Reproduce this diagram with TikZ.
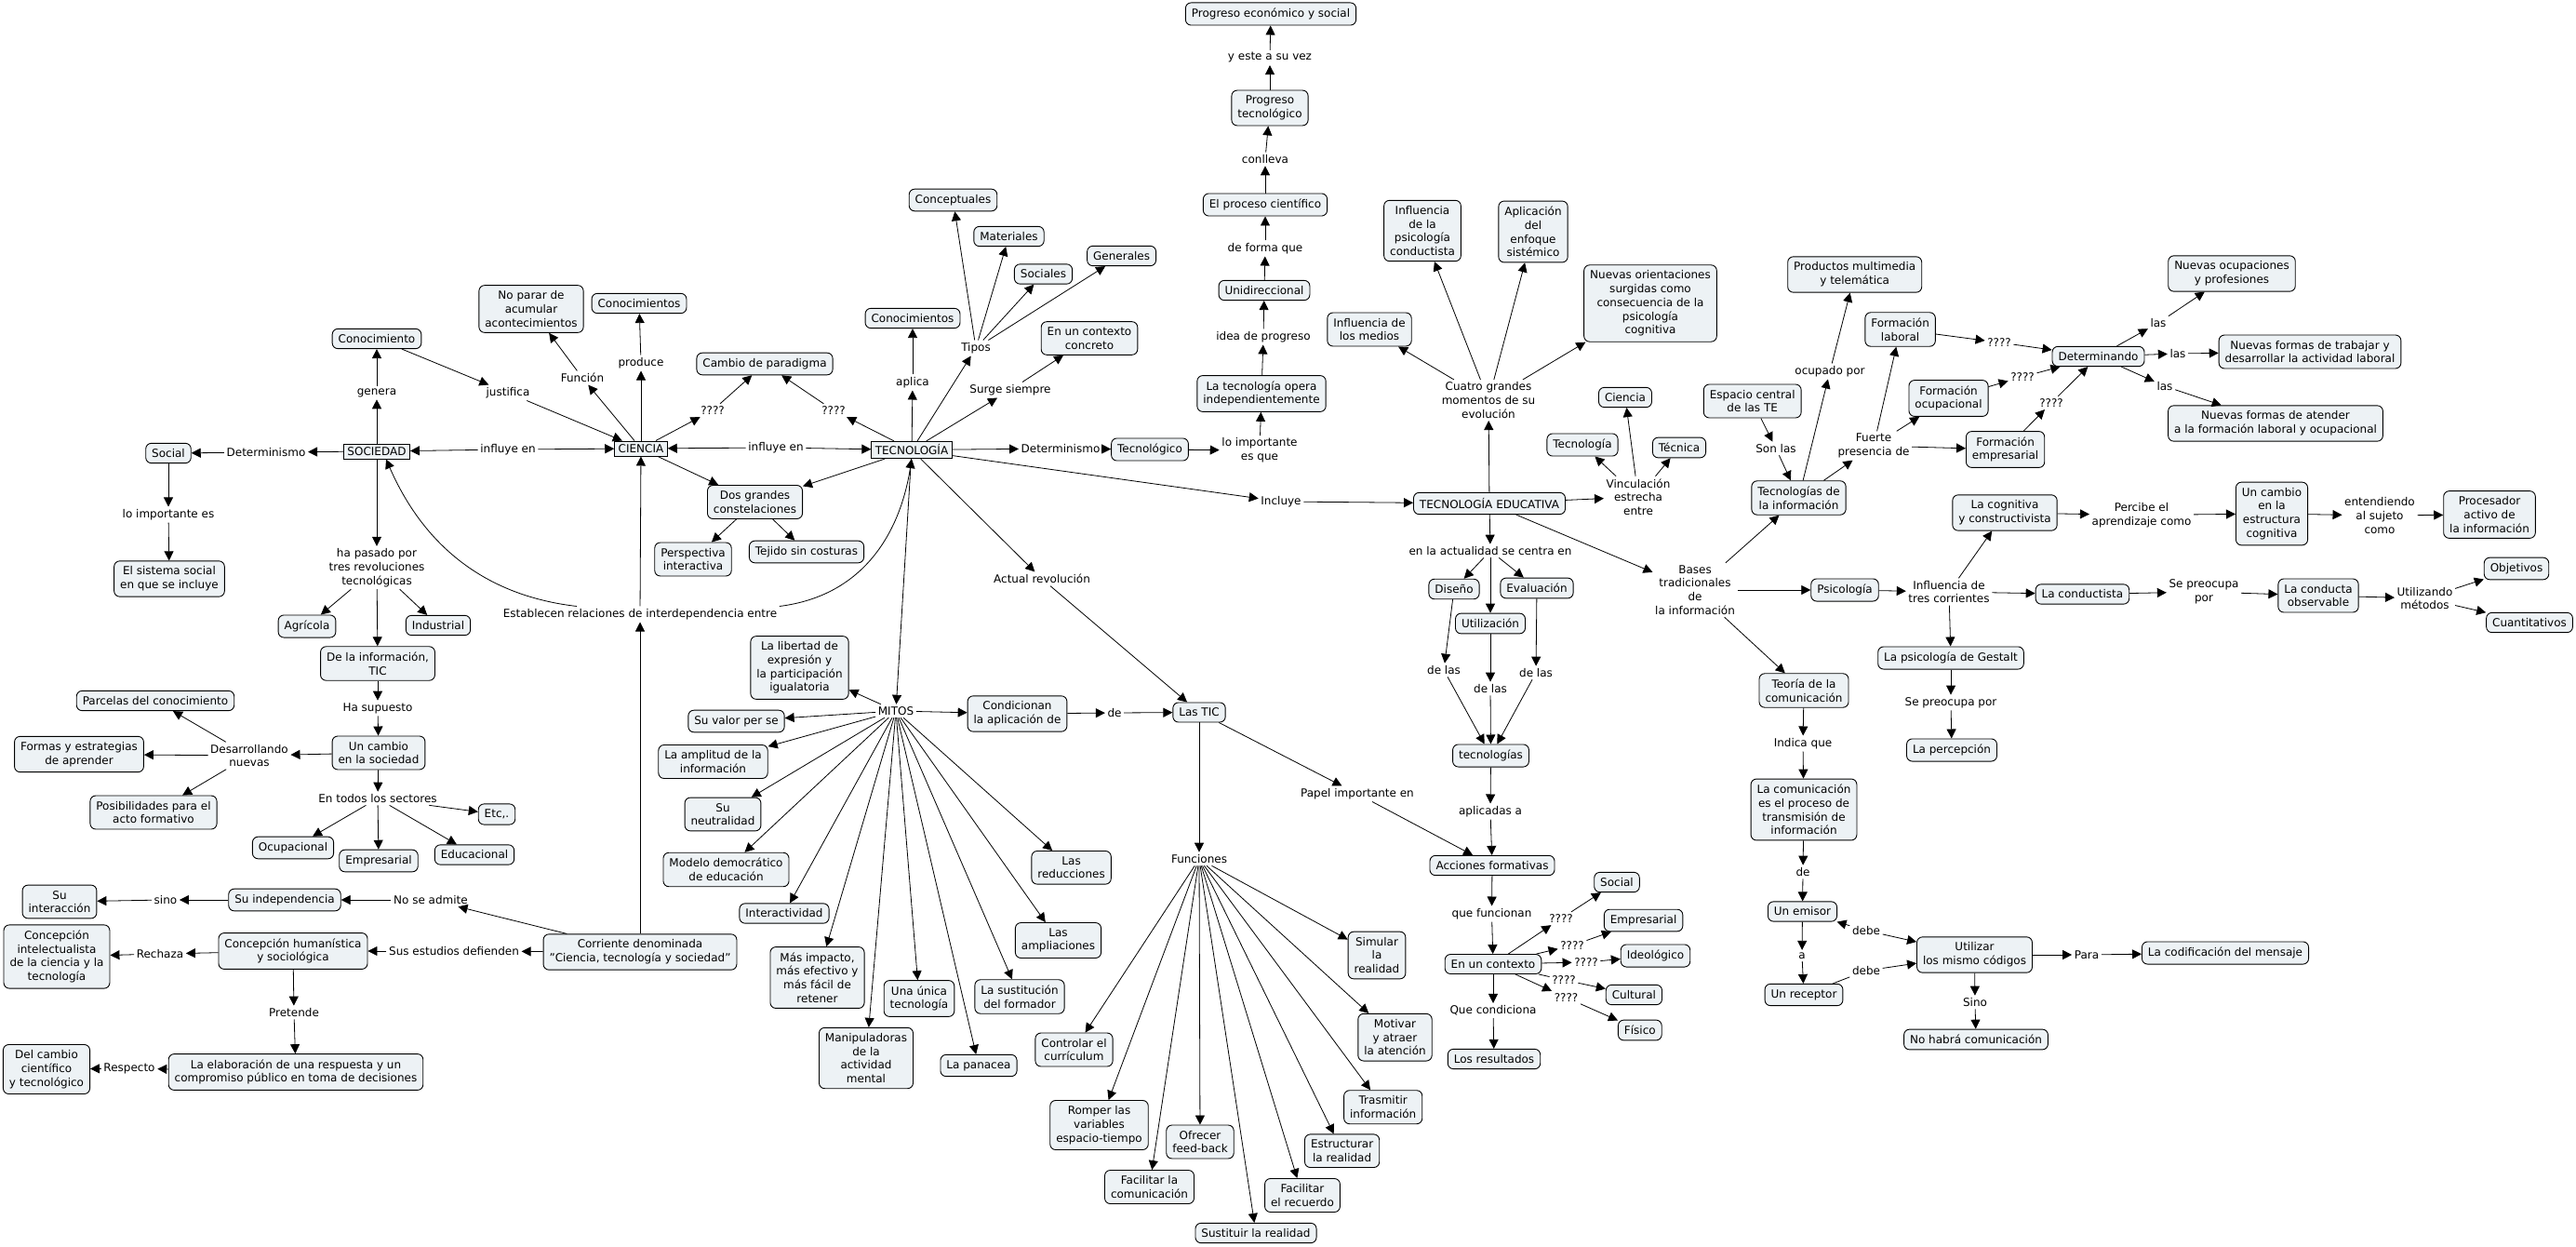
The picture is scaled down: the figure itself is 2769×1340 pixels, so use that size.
\documentclass[tikz,border=0pt]{standalone}
\usepackage{fontspec}
\setmainfont{DejaVu Sans}
\usetikzlibrary{arrows.meta}
\definecolor{cfill}{RGB}{237,242,245}
\begin{document}
\begin{tikzpicture}[x=1pt,y=-1pt,
  every node/.style={font=\fontsize{12}{14.7}\selectfont, align=center},
  cn/.style={draw, fill=cfill, rounded corners=6pt, inner xsep=6.5pt, inner ysep=6pt, line width=0.9pt},
  sq/.style={draw, fill=cfill, inner xsep=4pt, inner ysep=3.5pt, line width=0.9pt},
  lb/.style={inner sep=2.5pt},
  arw/.style={-{Triangle[length=10pt,width=10pt]}, line width=0.8pt},
  seg/.style={line width=0.8pt}]
\fill[white] (0,0) rectangle (2769,1340);
\useasboundingbox (0,0) rectangle (2769,1340);

% ---------- main row ----------
\node[sq] (soc) at (405,485) {SOCIEDAD};
\node[sq] (cie) at (689,482) {CIENCIA};
\node[sq] (tec) at (980,483.5) {TECNOLOGÍA};

% ---------- left part ----------
\node[cn] (conoc1) at (405,364) {Conocimiento};
\node[lb] (lgenera) at (405,422) {genera};
\node[lb] (ljust) at (546,422) {justifica};
\node[lb] (lfunc) at (626,406) {Función};
\node[cn] (noparar) at (571,332) {No parar de\\acumular\\acontecimientos};
\node[lb] (lprod) at (689,390) {produce};
\node[cn] (conoc2) at (687,326) {Conocimientos};
\node[lb] (linf1) at (546,483) {influye en};
\node[lb] (ldet1) at (286,486) {Determinismo};
\node[cn] (social) at (181,487) {Social};
\node[lb] (limp1) at (181,553) {lo importante es};
\node[cn] (sistema) at (182,622) {El sistema social\\en que se incluye};
\node[lb] (lpasado) at (405,610) {ha pasado por\\tres revoluciones\\tecnológicas};
\node[cn] (agricola) at (330,673) {Agrícola};
\node[cn] (industrial) at (471,672) {Industrial};
\node[cn] (deinfo) at (406,713) {De la información,\\TIC};
\node[lb] (lsupuesto) at (406,761) {Ha supuesto};
\node[cn] (cambio1) at (407,809) {Un cambio\\en la sociedad};
\node[lb] (ldesarr) at (268,812) {Desarrollando\\nuevas};
\node[cn] (parcelas) at (167,753) {Parcelas del conocimiento};
\node[cn] (formas) at (85,810.5) {Formas y estrategias\\de aprender};
\node[cn] (posib) at (165,873) {Posibilidades para el\\acto formativo};
\node[lb] (ltodos) at (406,858) {En todos los sectores};
\node[cn] (etc) at (534,875) {Etc,.};
\node[cn] (ocup) at (315,911) {Ocupacional};
\node[cn] (empres1) at (407,925) {Empresarial};
\node[cn] (educ) at (510,918.5) {Educacional};
\node[cn] (indep) at (306,967) {Su independencia};
\node[lb] (ladmite) at (463,967) {No se admite};
\node[lb] (lsino) at (178,967) {sino};
\node[cn] (interac) at (64,969) {Su\\interacción};
\node[cn] (intelec) at (61,1028) {Concepción\\intelectualista\\de la ciencia y la\\tecnología};
\node[lb] (lrechaza) at (172,1025) {Rechaza};
\node[cn] (human) at (315,1022) {Concepción humanística\\y sociológica};
\node[lb] (lestudios) at (488,1022) {Sus estudios defienden};
\node[cn] (corriente) at (688,1023) {Corriente denominada\\"Ciencia, tecnología y sociedad"};
\node[lb] (lpretende) at (316,1088) {Pretende};
\node[cn] (elabor) at (318,1152) {La elaboración de una respuesta y un\\compromiso público en toma de decisiones};
\node[lb] (lrespecto) at (139,1148) {Respecto};
\node[cn] (delcambio) at (50,1149) {Del cambio\\científico\\y tecnológico};
\node[lb] (lestab) at (688,660) {Establecen relaciones de interdependencia entre};

% ---------- middle ----------
\node[lb] (linf2) at (834,481) {influye en};
\node[lb] (lq1) at (766,441) {????};
\node[lb] (lq2) at (896,441) {????};
\node[cn] (paradigma) at (822,391) {Cambio de paradigma};
\node[cn] (dosgr) at (811.5,539.5) {Dos grandes\\constelaciones};
\node[cn] (perspec) at (745,601) {Perspectiva\\interactiva};
\node[cn] (tejido) at (867,593) {Tejido sin costuras};
\node[cn] (conoc3) at (981,342) {Conocimientos};
\node[lb] (laplica) at (981,411) {aplica};
\node[lb] (ltipos) at (1049,374) {Tipos};
\node[cn] (concep) at (1024.5,215) {Conceptuales};
\node[cn] (mater) at (1084.5,254) {Materiales};
\node[cn] (sociales) at (1121.5,294.5) {Sociales};
\node[cn] (generales) at (1205.6,275) {Generales};
\node[cn] (contextoc) at (1171,363.5) {En un contexto\\concreto};
\node[lb] (lsurge) at (1086,419) {Surge siempre};
\node[lb] (ldet2) at (1140,482) {Determinismo};
\node[cn] (tecnologico) at (1236,483) {Tecnológico};
\node[lb] (limp2) at (1354,484) {lo importante\\es que};
\node[cn] (opera) at (1356,423) {La tecnología opera\\independientemente};
\node[lb] (lidea) at (1358,362) {idea de progreso};
\node[cn] (unidir) at (1359,312) {Unidireccional};
\node[lb] (lforma) at (1360,267) {de forma que};
\node[cn] (proceso) at (1360,220) {El proceso científico};
\node[lb] (lconlleva) at (1360,171) {conlleva};
\node[cn] (progtec) at (1365,116) {Progreso\\tecnológico};
\node[lb] (leste) at (1365,62) {y este a su vez};
\node[cn] (progeco) at (1366,15) {Progreso económico y social};
\node[lb] (lincluye) at (1377,539) {Incluye};
\node[lb] (lactual) at (1120,622) {Actual revolución};
\node[lb] (mitos) at (963,764) {MITOS};
\node[cn] (libertad) at (859.5,717.5) {La libertad de\\expresión y\\la participación\\igualatoria};
\node[cn] (valor) at (791.5,775) {Su valor per se};
\node[cn] (amplitud) at (766.5,818.5) {La amplitud de la\\información};
\node[cn] (neutral) at (777,875) {Su\\neutralidad};
\node[cn] (modelo) at (780.5,934.5) {Modelo democrático\\de educación};
\node[cn] (interact) at (843,981.5) {Interactividad};
\node[cn] (impacto) at (878.5,1050.5) {Más impacto,\\más efectivo y\\más fácil de\\retener};
\node[cn] (unica) at (988,1073) {Una única\\tecnología};
\node[cn] (manip) at (931,1137) {Manipuladoras\\de la\\actividad\\mental};
\node[cn] (panacea) at (1052,1145) {La panacea};
\node[cn] (sustit) at (1096,1071) {La sustitución\\del formador};
\node[cn] (amplia) at (1137.5,1010.5) {Las\\ampliaciones};
\node[cn] (reduc) at (1151.6,932.3) {Las\\reducciones};
\node[cn] (condic) at (1093.5,767) {Condicionan\\la aplicación de};
\node[lb] (lde1) at (1198,766) {de};
\node[cn] (tic) at (1289,765.5) {Las TIC};
\node[lb] (lfunc2) at (1289,923) {Funciones};
\node[cn] (controlar) at (1154.5,1128) {Controlar el\\currículum};
\node[cn] (romper) at (1181.5,1209) {Romper las\\variables\\espacio-tiempo};
\node[cn] (faccom) at (1235.5,1275.5) {Facilitar la\\comunicación};
\node[cn] (ofrecer) at (1290,1227) {Ofrecer\\feed-back};
\node[cn] (sustituir) at (1350,1325) {Sustituir la realidad};
\node[cn] (facrec) at (1400,1284.5) {Facilitar\\el recuerdo};
\node[cn] (estruct) at (1442.6,1236.7) {Estructurar\\la realidad};
\node[cn] (trasmitir) at (1486.7,1189.7) {Trasmitir\\información};
\node[cn] (motivar) at (1499.5,1114.7) {Motivar\\y atraer\\la atención};
\node[cn] (simular) at (1480,1026.5) {Simular\\la\\realidad};
\node[lb] (lpapel) at (1459,853) {Papel importante en};

% ---------- tecnologia educativa ----------
\node[cn] (te) at (1601,541) {TECNOLOGÍA EDUCATIVA};
\node[lb] (lcuatro) at (1600,430) {Cuatro grandes\\momentos de su\\evolución};
\node[cn] (medios) at (1472,354) {Influencia de\\los medios};
\node[cn] (conduct) at (1529,248) {Influencia\\de la\\psicología\\conductista};
\node[cn] (aplicacion) at (1648,249) {Aplicación\\del\\enfoque\\sistémico};
\node[cn] (nuevasor) at (1774,326) {Nuevas orientaciones\\surgidas como\\consecuencia de la\\psicología\\cognitiva};
\node[lb] (lvinc) at (1761,534) {Vinculación\\estrecha\\entre};
\node[cn] (tecnologia2) at (1701,478) {Tecnología};
\node[cn] (ciencia2) at (1747,427) {Ciencia};
\node[cn] (tecnica) at (1805,481) {Técnica};
\node[lb] (lactualidad) at (1602,592) {en la actualidad se centra en};
\node[cn] (diseno) at (1563,633) {Diseño};
\node[cn] (evalu) at (1652,632) {Evaluación};
\node[cn] (utiliz) at (1602,670) {Utilización};
\node[lb] (ldelas1) at (1552,720) {de las};
\node[lb] (ldelas2) at (1602,740) {de las};
\node[lb] (ldelas3) at (1651,723) {de las};
\node[cn] (tecnologias) at (1602.5,812) {tecnologías};
\node[lb] (laplicadas) at (1602,872) {aplicadas a};
\node[cn] (acciones) at (1604,930) {Acciones formativas};
\node[lb] (lfuncionan) at (1603.5,982) {que funcionan};
\node[cn] (contexto) at (1605,1036) {En un contexto};
\node[lb] (lcondiciona) at (1605,1086) {Que condiciona};
\node[cn] (resultados) at (1606,1138) {Los resultados};
\node[lb] (q1) at (1678,987) {????};
\node[lb] (q2) at (1690,1016) {????};
\node[lb] (q3) at (1705,1034) {????};
\node[lb] (q4) at (1681,1053) {????};
\node[lb] (q5) at (1683.5,1072) {????};
\node[cn] (social2) at (1738,948) {Social};
\node[cn] (empres2) at (1766.6,989) {Empresarial};
\node[cn] (ideol) at (1779.5,1027) {Ideológico};
\node[cn] (cultural) at (1756.4,1069) {Cultural};
\node[cn] (fisico) at (1762.8,1107) {Físico};

% ---------- right part ----------
\node[lb] (lbases) at (1822,634) {Bases\\tradicionales\\de\\la información};
\node[cn] (tecinfo) at (1933.5,535) {Tecnologías de\\la información};
\node[cn] (espacio) at (1883.7,431) {Espacio central\\de las TE};
\node[lb] (lson) at (1909,482) {Son las};
\node[lb] (locupado) at (1967,399) {ocupado por};
\node[cn] (productos) at (1993.7,295) {Productos multimedia\\y telemática};
\node[lb] (lfuerte) at (2014,479) {Fuerte\\presencia de};
\node[cn] (flaboral) at (2042.6,354) {Formación\\laboral};
\node[cn] (focup) at (2094.5,428) {Formación\\ocupacional};
\node[cn] (fempres) at (2155.6,483) {Formación\\empresarial};
\node[lb] (lq3) at (2149,368) {????};
\node[lb] (lq4) at (2174,405) {????};
\node[lb] (lq5) at (2205,433) {????};
\node[cn] (determ) at (2255.5,383) {Determinando};
\node[lb] (llas1) at (2320,347) {las};
\node[lb] (llas2) at (2341,380) {las};
\node[lb] (llas3) at (2327,415) {las};
\node[cn] (nocup) at (2399,294) {Nuevas ocupaciones\\y profesiones};
\node[cn] (ntrab) at (2483,378) {Nuevas formas de trabajar y\\desarrollar la actividad laboral};
\node[cn] (naten) at (2446,455) {Nuevas formas de atender\\a la formación laboral y ocupacional};
\node[cn] (psico) at (1983,634) {Psicología};
\node[lb] (linfl) at (2095,636) {Influencia de\\tres corrientes};
\node[cn] (cognit) at (2155,551) {La cognitiva\\y constructivista};
\node[lb] (lpercibe) at (2302,553.5) {Percibe el\\aprendizaje como};
\node[cn] (cambio2) at (2442,552) {Un cambio\\en la\\estructura\\cognitiva};
\node[lb] (lentend) at (2558,554) {entendiendo\\al sujeto\\como};
\node[cn] (procesador) at (2676,553) {Procesador\\activo de\\la información};
\node[cn] (conductista) at (2238.4,638.5) {La conductista};
\node[lb] (lpreoc1) at (2369,636) {Se preocupa\\por};
\node[cn] (observable) at (2492,640) {La conducta\\observable};
\node[lb] (lutiliz) at (2606.5,643) {Utilizando\\métodos};
\node[cn] (objetivos) at (2705,611) {Objetivos};
\node[cn] (cuantit) at (2719,669) {Cuantitativos};
\node[cn] (gestalt) at (2097,707) {La psicología de Gestalt};
\node[lb] (lpreoc2) at (2097,755) {Se preocupa por};
\node[cn] (percep) at (2098,806) {La percepción};
\node[cn] (teoria) at (1939,742) {Teoría de la\\comunicación};
\node[lb] (lindica) at (1938,799) {Indica que};
\node[cn] (comunic) at (1939,870) {La comunicación\\es el proceso de\\transmisión de\\información};
\node[lb] (lde2) at (1938,937) {de};
\node[cn] (emisor) at (1937.5,979.5) {Un emisor};
\node[lb] (la) at (1937,1027) {a};
\node[cn] (receptor) at (1939,1069) {Un receptor};
\node[lb] (ldebe1) at (2006,1000) {debe};
\node[lb] (ldebe2) at (2006,1043) {debe};
\node[cn] (utilizar) at (2122.5,1026) {Utilizar\\los mismo códigos};
\node[lb] (lpara) at (2243,1026) {Para};
\node[cn] (codif) at (2392,1024) {La codificación del mensaje};
\node[lb] (lsinoo) at (2123,1077) {Sino};
\node[cn] (nohabra) at (2124,1117) {No habrá comunicación};

% ---------- connectors: left ----------
\draw[arw] (soc) -- (lgenera);
\draw[arw] (lgenera) -- (conoc1);
\draw[arw] (conoc1) -- (ljust);
\draw[arw] (ljust) -- (cie);
\draw[arw] (cie) -- (lfunc);
\draw[arw] (lfunc) -- (noparar);
\draw[arw] (cie) -- (lprod);
\draw[arw] (lprod) -- (conoc2);
\draw[arw] (linf1) -- (soc);
\draw[arw] (linf1) -- (cie);
\draw[arw] (soc) -- (ldet1);
\draw[arw] (ldet1) -- (social);
\draw[arw] (social) -- (limp1);
\draw[arw] (limp1) -- (sistema);
\draw[arw] (soc) -- (lpasado);
\draw[arw] (lpasado) -- (agricola);
\draw[arw] (lpasado) -- (industrial);
\draw[arw] (lpasado) -- (deinfo);
\draw[arw] (deinfo) -- (lsupuesto);
\draw[arw] (lsupuesto) -- (cambio1);
\draw[arw] (cambio1) -- (ldesarr);
\draw[arw] (ldesarr) -- (parcelas);
\draw[arw] (ldesarr) -- (formas);
\draw[arw] (ldesarr) -- (posib);
\draw[arw] (cambio1) -- (ltodos);
\draw[arw] (ltodos) -- (ocup);
\draw[arw] (ltodos) -- (empres1);
\draw[arw] (ltodos) -- (educ);
\draw[arw] (ltodos) -- (etc);
\draw[arw] (corriente) -- (ladmite);
\draw[arw] (ladmite) -- (indep);
\draw[arw] (indep) -- (lsino);
\draw[arw] (lsino) -- (interac);
\draw[arw] (corriente) -- (lestudios);
\draw[arw] (lestudios) -- (human);
\draw[arw] (human) -- (lrechaza);
\draw[arw] (lrechaza) -- (intelec);
\draw[arw] (human) -- (lpretende);
\draw[arw] (lpretende) -- (elabor);
\draw[arw] (elabor) -- (lrespecto);
\draw[arw] (lrespecto) -- (delcambio);
\draw[arw] (corriente) -- (lestab);
\draw[arw] (lestab) -- (cie);
\draw[arw] ([xshift=-68pt]lestab.north) .. controls (520,640) and (455,585) .. ([xshift=10pt]soc.south);
\draw[arw] (lestab.north east) .. controls (930,640) and (968,570) .. (tec.south);

% ---------- connectors: middle ----------
\draw[arw] (linf2) -- (cie);
\draw[arw] (linf2) -- (tec);
\draw[arw] (cie) -- (lq1);
\draw[arw] (lq1) -- (paradigma);
\draw[arw] (tec) -- (lq2);
\draw[arw] (lq2) -- (paradigma);
\draw[arw] (cie) -- (dosgr);
\draw[arw] (tec) -- (dosgr);
\draw[arw] (dosgr) -- (perspec);
\draw[arw] (dosgr) -- (tejido);
\draw[arw] (tec) -- (laplica);
\draw[arw] (laplica) -- (conoc3);
\draw[arw] (tec) -- (ltipos);
\draw[arw] (ltipos) -- (concep);
\draw[arw] (ltipos) -- (mater);
\draw[arw] (ltipos) -- (sociales);
\draw[arw] (ltipos) -- (generales);
\draw[arw] (tec) -- (lsurge);
\draw[arw] (lsurge) -- (contextoc);
\draw[arw] (tec) -- (ldet2);
\draw[arw] (ldet2) -- (tecnologico);
\draw[arw] (tecnologico) -- (limp2);
\draw[arw] (limp2) -- (opera);
\draw[arw] (opera) -- (lidea);
\draw[arw] (lidea) -- (unidir);
\draw[arw] (unidir) -- (lforma);
\draw[arw] (lforma) -- (proceso);
\draw[arw] (proceso) -- (lconlleva);
\draw[arw] (lconlleva) -- (progtec);
\draw[arw] (progtec) -- (leste);
\draw[arw] (leste) -- (progeco);
\draw[arw] (tec) -- (lincluye);
\draw[arw] (lincluye) -- (te);
\draw[arw] (tec) -- (lactual);
\draw[arw] (lactual) -- (tic);
\draw[arw] (tec) -- (mitos);
\foreach \t in {libertad,valor,amplitud,neutral,modelo,interact,impacto,manip,unica,panacea,sustit,amplia,reduc}
  \draw[arw] (mitos) -- (\t);
\draw[arw] (mitos) -- (condic);
\draw[arw] (condic) -- (lde1);
\draw[arw] (lde1) -- (tic);
\draw[arw] (tic) -- (lfunc2);
\foreach \t in {controlar,romper,faccom,ofrecer,sustituir,facrec,estruct,trasmitir,motivar,simular}
  \draw[arw] (lfunc2) -- (\t);
\draw[arw] (tic) -- (lpapel);
\draw[arw] (lpapel) -- (acciones);

% ---------- connectors: tecnologia educativa ----------
\draw[arw] (te) -- (lcuatro);
\draw[arw] (lcuatro) -- (medios);
\draw[arw] (lcuatro) -- (conduct);
\draw[arw] (lcuatro) -- (aplicacion);
\draw[arw] (lcuatro) -- (nuevasor);
\draw[arw] (te) -- (lvinc);
\draw[arw] (lvinc) -- (tecnologia2);
\draw[arw] (lvinc) -- (ciencia2);
\draw[arw] (lvinc) -- (tecnica);
\draw[arw] (te) -- (lactualidad);
\draw[arw] (lactualidad) -- (diseno);
\draw[arw] (lactualidad) -- (utiliz);
\draw[arw] (lactualidad) -- (evalu);
\draw[arw] (diseno) -- (ldelas1);
\draw[arw] (ldelas1) -- (tecnologias);
\draw[arw] (utiliz) -- (ldelas2);
\draw[arw] (ldelas2) -- (tecnologias);
\draw[arw] (evalu) -- (ldelas3);
\draw[arw] (ldelas3) -- (tecnologias);
\draw[arw] (tecnologias) -- (laplicadas);
\draw[arw] (laplicadas) -- (acciones);
\draw[arw] (acciones) -- (lfuncionan);
\draw[arw] (lfuncionan) -- (contexto);
\draw[arw] (contexto) -- (lcondiciona);
\draw[arw] (lcondiciona) -- (resultados);
\draw[arw] (contexto) -- (q1);
\draw[arw] (q1) -- (social2);
\draw[arw] (contexto) -- (q2);
\draw[arw] (q2) -- (empres2);
\draw[arw] (contexto) -- (q3);
\draw[arw] (q3) -- (ideol);
\draw[seg] (contexto) -- (q4);
\draw[arw] (q4) -- (cultural);
\draw[arw] (contexto) -- (q5);
\draw[arw] (q5) -- (fisico);

% ---------- connectors: right ----------
\draw[arw] (te) -- (lbases);
\draw[arw] (lbases) -- (tecinfo);
\draw[arw] (lbases) -- (psico);
\draw[arw] (lbases) -- (teoria);
\draw[arw] (espacio) -- (lson);
\draw[arw] (lson) -- (tecinfo);
\draw[arw] (tecinfo) -- (locupado);
\draw[arw] (locupado) -- (productos);
\draw[arw] (tecinfo) -- (lfuerte);
\draw[arw] (lfuerte) -- (flaboral);
\draw[arw] (lfuerte) -- (focup);
\draw[arw] (lfuerte) -- (fempres);
\draw[arw] (flaboral) -- (lq3);
\draw[arw] (lq3) -- (determ);
\draw[arw] (focup) -- (lq4);
\draw[arw] (lq4) -- (determ);
\draw[arw] (fempres) -- (lq5);
\draw[arw] (lq5) -- (determ);
\draw[arw] (determ) -- (llas1);
\draw[arw] (llas1) -- (nocup);
\draw[arw] (determ) -- (llas2);
\draw[arw] (llas2) -- (ntrab);
\draw[arw] (determ) -- (llas3);
\draw[arw] (llas3) -- (naten);
\draw[arw] (psico) -- (linfl);
\draw[arw] (linfl) -- (cognit);
\draw[arw] (linfl) -- (conductista);
\draw[arw] (linfl) -- (gestalt);
\draw[arw] (cognit) -- (lpercibe);
\draw[arw] (lpercibe) -- (cambio2);
\draw[arw] (cambio2) -- (lentend);
\draw[arw] (lentend) -- (procesador);
\draw[arw] (conductista) -- (lpreoc1);
\draw[arw] (lpreoc1) -- (observable);
\draw[arw] (observable) -- (lutiliz);
\draw[arw] (lutiliz) -- (objetivos);
\draw[arw] (lutiliz) -- (cuantit);
\draw[arw] (gestalt) -- (lpreoc2);
\draw[arw] (lpreoc2) -- (percep);
\draw[arw] (teoria) -- (lindica);
\draw[arw] (lindica) -- (comunic);
\draw[arw] (comunic) -- (lde2);
\draw[arw] (lde2) -- (emisor);
\draw[arw] (emisor) -- (la);
\draw[arw] (la) -- (receptor);
\draw[arw] (ldebe1) -- (emisor);
\draw[arw] (ldebe1) -- (utilizar);
\draw[seg] (receptor) -- (ldebe2);
\draw[arw] (ldebe2) -- (utilizar);
\draw[arw] (utilizar) -- (lpara);
\draw[arw] (lpara) -- (codif);
\draw[arw] (utilizar) -- (lsinoo);
\draw[arw] (lsinoo) -- (nohabra);
\end{tikzpicture}
\end{document}
